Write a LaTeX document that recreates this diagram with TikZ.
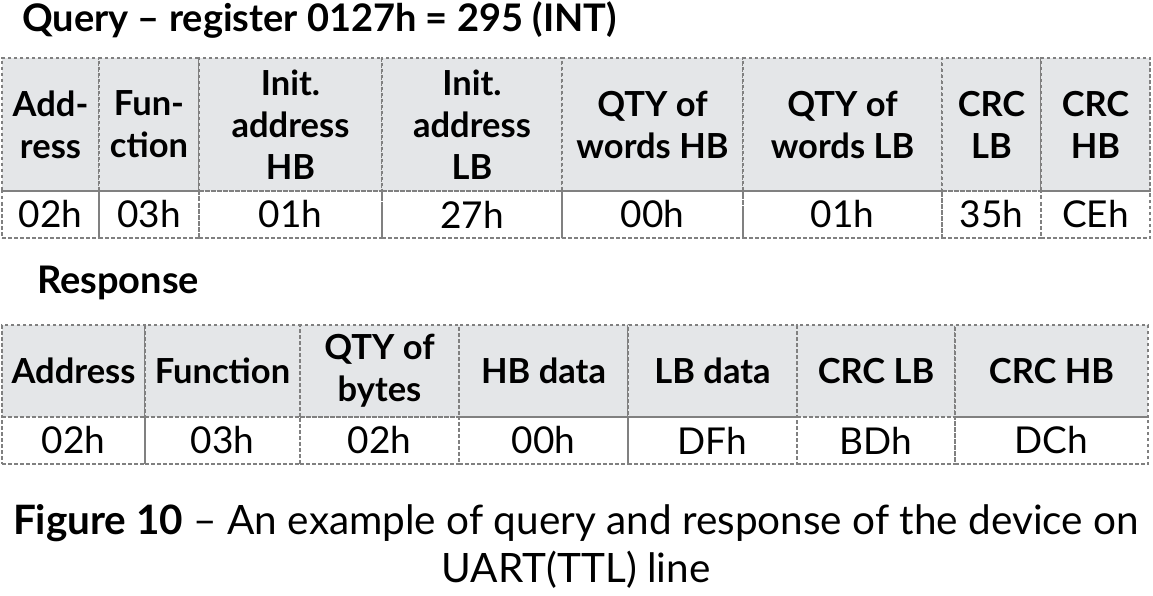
\documentclass[tikz,border=0pt]{standalone}
\usepackage{fontspec}
\setmainfont{Lato}
\usetikzlibrary{positioning}
\definecolor{cellgray}{HTML}{E4E6E8}
\definecolor{linegray}{HTML}{808080}
\tikzset{
  cell/.style={draw=linegray, line width=1.6pt, dash pattern=on 3.5pt off 2.5pt, inner sep=0pt, align=center, font=\fontsize{37}{42}\selectfont},
  head/.style={cell, fill=cellgray, font=\fontsize{34.5}{42}\selectfont\bfseries},
  titletext/.style={inner sep=0pt, anchor=west, font=\fontsize{38}{40}\selectfont\bfseries}
}
\begin{document}
\begin{tikzpicture}[x=1pt, y=-1pt]
   \useasboundingbox (0,0) rectangle (1153,596);
   \node[titletext] (qtitle) at (22,20) {Query – register 0127h = 295 (INT)};
   % query table
   \foreach \l/\r/\h/\v [count=\i] in {2/99/{Add-\\ress}/02h, 99/199/{Fun-\\ction}/03h,
       199/382/{Init.\\address\\HB}/01h, 382/562/{Init.\\address\\LB}/27h,
       562/743/{QTY of\\words HB}/00h, 743/942/{QTY of\\words LB}/01h,
       942/1041/{CRC\\LB}/35h, 1041/1150/{CRC\\HB}/CEh} {
     \node[head, minimum width={(\r-\l)*1pt}, minimum height=133pt] (qh\i) at ({(\l+\r)/2},124.5) {\h};
     \node[cell, minimum width={(\r-\l)*1pt}, minimum height=47pt] (qv\i) at ({(\l+\r)/2},214.5) {\v};
   }
   \node[titletext] (rtitle) at (37,283) {Response};
   % response table
   \foreach \l/\r/\h/\v [count=\i] in {2/145/Address/02h, 145/300/Function/03h,
       300/459/{QTY of\\bytes}/02h, 459/628/HB data/00h, 628/797/LB data/DFh,
       797/955/CRC LB/BDh, 955/1148/CRC HB/DCh} {
     \node[head, minimum width={(\r-\l)*1pt}, minimum height=92pt] (rh\i) at ({(\l+\r)/2},371) {\h};
     \node[cell, minimum width={(\r-\l)*1pt}, minimum height=47pt] (rv\i) at ({(\l+\r)/2},440.5) {\v};
   }
   \node[inner sep=0pt, align=center, font=\fontsize{40.5}{48}\selectfont] (caption) at (576,546)
     {\textbf{Figure 10} – An example of query and response of the device on\\UART(TTL) line};
\end{tikzpicture}
\end{document}
